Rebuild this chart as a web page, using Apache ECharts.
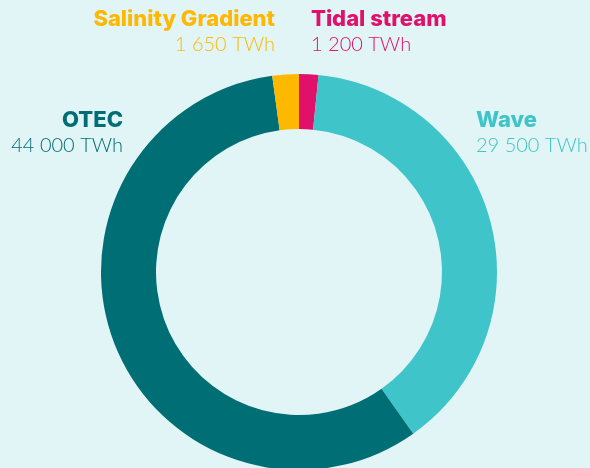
<!DOCTYPE html>
<html><head><meta charset="utf-8">
<script src="https://cdn.jsdelivr.net/npm/echarts@6/dist/echarts.min.js"></script>
<style>html,body{margin:0;padding:0;background:#E1F4F6;}#c{width:590px;height:468px;}</style>
</head><body><div id="c"></div>
<script>
const categories = ['Tidal stream', 'Wave', 'OTEC', 'Salinity Gradient'];
const values = [1200, 29500, 44000, 1650];
const unit = 'TWh';
const colors = ['#E0106B', '#3FC5C9', '#006E75', '#FFB800'];

function fmt(v){ return String(v).replace(/\B(?=(\d{3})+(?!\d))/g, ' ') + ' ' + unit; }

const labelPos = {
  'Tidal stream': {x: 311, y: 8, align: 'left'},
  'Wave': {x: 476, y: 109, align: 'left'},
  'OTEC': {x: 123, y: 109, align: 'right'},
  'Salinity Gradient': {x: 275, y: 8, align: 'right'}
};
const graphics = [];
categories.forEach((c, i) => {
  const p = labelPos[c];
  graphics.push({type:'text', x:p.x, y:p.y, style:{text:c, fill:colors[i], font:'800 22px Inter', textAlign:p.align, textVerticalAlign:'top'}});
  graphics.push({type:'text', x:p.x, y:p.y+27, style:{text:fmt(values[i]), fill:colors[i], font:'300 20px Lato', textAlign:p.align, textVerticalAlign:'top'}});
});

const chart = echarts.init(document.getElementById('c'), null, {renderer:'canvas'});
chart.setOption({
  backgroundColor: '#E1F4F6',
  animation: false,
  graphic: graphics,
  series: [{
    type: 'pie',
    center: [299, 272],
    radius: [143, 198],
    startAngle: 90,
    clockwise: true,
    label: {show: false},
    labelLine: {show: false},
    emphasis: {disabled: true},
    itemStyle: {borderWidth: 0},
    data: categories.map((c, i) => ({name: c, value: values[i], itemStyle: {color: colors[i]}}))
  }]
});
</script></body></html>
